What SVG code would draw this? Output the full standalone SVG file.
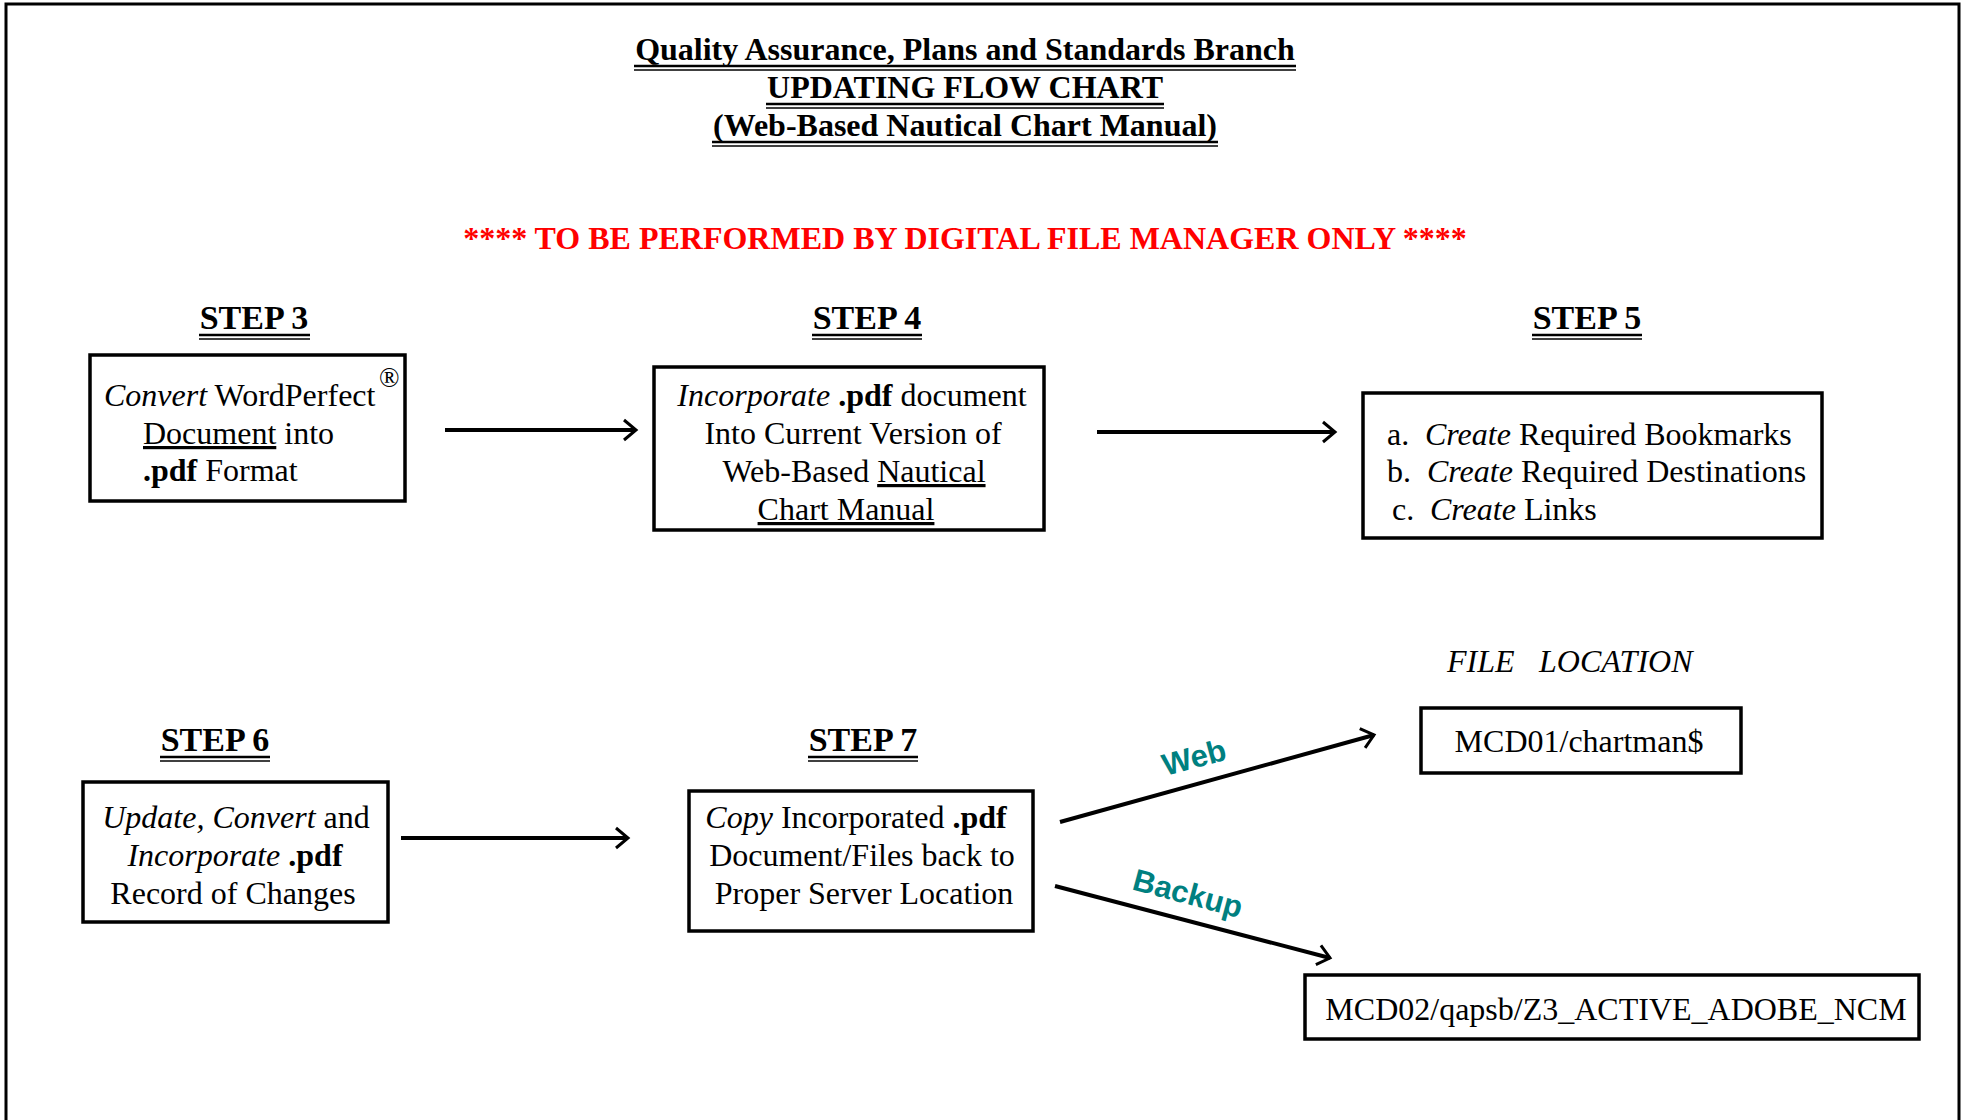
<svg xmlns="http://www.w3.org/2000/svg" width="1965" height="1120" viewBox="0 0 1965 1120">
<style>
  .t { font-family: "Liberation Serif", "Times New Roman", serif; font-size: 32px; fill: #000; }
  .title { font-family: "Liberation Serif", "Times New Roman", serif; font-size: 32px; font-weight: bold; fill: #000; text-anchor: middle; }
  .step { font-family: "Liberation Serif", "Times New Roman", serif; font-size: 34px; font-weight: bold; fill: #000; text-anchor: middle; }
  .red { font-family: "Liberation Serif", "Times New Roman", serif; font-size: 32px; font-weight: bold; fill: #FF0000; text-anchor: middle; }
  .mid { text-anchor: middle; }
  .i { font-style: italic; }
  .b { font-weight: bold; }
  .u { text-decoration: underline; }
  .box { fill: #fff; stroke: #000; stroke-width: 3.5; }
  .ul1 { stroke: #000; stroke-width: 2.5; }
  .ul2 { stroke: #000; stroke-width: 1.5; }
  .conn { stroke: #000; stroke-width: 4; fill: none; }
  .lbl { font-family: "Liberation Sans", Arial, sans-serif; font-size: 31px; font-weight: bold; fill: #008080; text-anchor: middle; }
</style>
<defs>
  <marker id="arr" markerUnits="userSpaceOnUse" markerWidth="30" markerHeight="30" refX="14" refY="11" orient="auto" overflow="visible">
    <path d="M2,1 L14,11 L2,21" fill="none" stroke="#000" stroke-width="3"/>
  </marker>
</defs>
<rect width="1965" height="1120" fill="#fff"/>
<g id="frame">
  <path d="M6,1125 L6,4 L1959,4 L1959,1125" fill="none" stroke="#000" stroke-width="3"/>
</g>
<g id="header">
  <text class="title" x="965" y="60">Quality Assurance, Plans and Standards Branch</text>
  <line class="ul1" x1="634" y1="66" x2="1296" y2="66"/>
  <line class="ul2" x1="634" y1="70" x2="1296" y2="70"/>
  <text class="title" x="965" y="98">UPDATING FLOW CHART</text>
  <line class="ul1" x1="766" y1="104" x2="1164" y2="104"/>
  <line class="ul2" x1="766" y1="108" x2="1164" y2="108"/>
  <text class="title" x="965" y="136">(Web-Based Nautical Chart Manual)</text>
  <line class="ul1" x1="712" y1="142" x2="1218" y2="142"/>
  <line class="ul2" x1="712" y1="146" x2="1218" y2="146"/>
  <text class="red" x="965" y="249">**** TO BE PERFORMED BY DIGITAL FILE MANAGER ONLY ****</text>
</g>
<g id="labels">
  <text class="step" x="254" y="329">STEP 3</text>
  <line class="ul1" x1="199" y1="335" x2="310" y2="335"/>
  <line class="ul2" x1="199" y1="339" x2="310" y2="339"/>
  <text class="step" x="867" y="329">STEP 4</text>
  <line class="ul1" x1="812" y1="335" x2="922" y2="335"/>
  <line class="ul2" x1="812" y1="339" x2="922" y2="339"/>
  <text class="step" x="1587" y="329">STEP 5</text>
  <line class="ul1" x1="1532" y1="335" x2="1642" y2="335"/>
  <line class="ul2" x1="1532" y1="339" x2="1642" y2="339"/>
  <text class="step" x="215" y="751">STEP 6</text>
  <line class="ul1" x1="160" y1="757" x2="270" y2="757"/>
  <line class="ul2" x1="160" y1="761" x2="270" y2="761"/>
  <text class="step" x="863" y="751">STEP 7</text>
  <line class="ul1" x1="808" y1="757" x2="918" y2="757"/>
  <line class="ul2" x1="808" y1="761" x2="918" y2="761"/>
  <text class="t i" x="1447" y="672">FILE</text>
  <text class="t i" x="1539" y="672">LOCATION</text>
</g>
<g id="step3">
  <rect class="box" x="90" y="355" width="315" height="146"/>
  <text class="t" x="104" y="406"><tspan class="i">Convert</tspan> WordPerfect</text>
  <text class="t" x="379" y="387" style="font-size:27px">®</text>
  <text class="t" x="143" y="444"><tspan class="u">Document</tspan> into</text>
  <text class="t" x="143" y="481"><tspan class="b">.pdf</tspan> Format</text>
</g>
<g id="step4">
  <rect class="box" x="654" y="367" width="390" height="163"/>
  <text class="t mid" x="852" y="406"><tspan class="i">Incorporate</tspan> <tspan class="b">.pdf</tspan> document</text>
  <text class="t mid" x="853" y="444">Into Current Version of</text>
  <text class="t mid" x="854" y="482">Web-Based <tspan class="u">Nautical</tspan></text>
  <text class="t mid" x="846" y="520"><tspan class="u">Chart Manual</tspan></text>
</g>
<g id="step5">
  <rect class="box" x="1363" y="393" width="459" height="145"/>
  <text class="t" x="1387" y="445">a.</text>
  <text class="t" x="1425" y="445"><tspan class="i">Create</tspan> Required Bookmarks</text>
  <text class="t" x="1387" y="482">b.</text>
  <text class="t" x="1427" y="482"><tspan class="i">Create</tspan> Required Destinations</text>
  <text class="t" x="1392" y="520">c.</text>
  <text class="t" x="1430" y="520"><tspan class="i">Create</tspan> Links</text>
</g>
<g id="step6">
  <rect class="box" x="83" y="782" width="305" height="140"/>
  <text class="t mid" x="236" y="828"><tspan class="i">Update, Convert</tspan> and</text>
  <text class="t mid" x="235" y="866"><tspan class="i">Incorporate</tspan> <tspan class="b">.pdf</tspan></text>
  <text class="t mid" x="233" y="904">Record of Changes</text>
</g>
<g id="step7">
  <rect class="box" x="689" y="791" width="344" height="140"/>
  <text class="t mid" x="856" y="828"><tspan class="i">Copy</tspan> Incorporated <tspan class="b">.pdf</tspan></text>
  <text class="t mid" x="862" y="866">Document/Files back to</text>
  <text class="t mid" x="864" y="904">Proper Server Location</text>
</g>
<g id="loc1">
  <rect class="box" x="1421" y="708" width="320" height="65"/>
  <text class="t mid" x="1579" y="752">MCD01/chartman$</text>
</g>
<g id="loc2">
  <rect class="box" x="1305" y="975" width="614" height="64"/>
  <text class="t mid" x="1616" y="1020">MCD02/qapsb/Z3_ACTIVE_ADOBE_NCM</text>
</g>
<g id="connectors">
  <line class="conn" x1="445" y1="430" x2="636" y2="430" marker-end="url(#arr)"/>
  <line class="conn" x1="1097" y1="432" x2="1335" y2="432" marker-end="url(#arr)"/>
  <line class="conn" x1="401" y1="838" x2="628" y2="838" marker-end="url(#arr)"/>
  <line class="conn" x1="1060" y1="822" x2="1374" y2="735" marker-end="url(#arr)"/>
  <line class="conn" x1="1055" y1="886" x2="1330" y2="958" marker-end="url(#arr)"/>
  <text class="lbl" x="1194" y="768" transform="rotate(-15 1194 757)">Web</text>
  <text class="lbl" x="1188" y="904" transform="rotate(15 1188 893)">Backup</text>
</g>
</svg>
